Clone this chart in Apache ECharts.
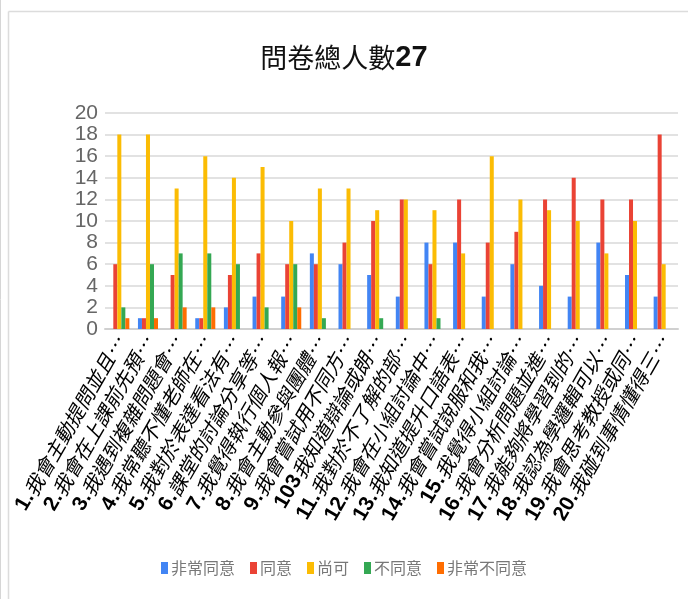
<!DOCTYPE html>
<html>
<head>
<meta charset="utf-8">
<script src="https://cdn.jsdelivr.net/npm/echarts@6/dist/echarts.min.js"></script>
<style>
html,body{margin:0;padding:0;background:#fff;}
#c{width:688px;height:599px;}
</style>
</head>
<body>
<div id="c"></div>
<script>
const categories = [
  "1.我會主動提問並且…","2.我會在上課前先預…","3.我遇到複雜問題會…","4.我常聽不懂老師在…",
  "5.我對於表達看法有…","6.課堂的討論分享等…","7.我覺得執行個人報…","8.我會主動參與團體…",
  "9.我會嘗試用不同方…","103我知道辯論或朗…","11.我對於不了解的部…","12.我會在小組討論中…",
  "13.我知道提升口語表…","14.我會嘗試說服和我…","15.我覺得小組討論…","16.我會分析問題並進…",
  "17.我能夠將學習到的…","18.我認為學邏輯可以…","19.我會思考教授或同…","20.我碰到事情懂得三…"
];
const seriesNames = ["非常同意","同意","尚可","不同意","非常不同意"];
const stronglyAgree    = [0,1,0,1,2,3,3,7,6,5,3,8,8,3,6,4,3,8,5,3];
const agree            = [6,1,5,1,5,7,6,6,8,10,12,6,12,8,9,12,14,12,12,18];
const neutral          = [18,18,13,16,14,15,10,13,13,11,12,11,7,16,12,11,10,7,10,6];
const disagree         = [2,6,7,7,6,2,6,1,0,1,0,1,0,0,0,0,0,0,0,0];
const stronglyDisagree = [1,1,2,2,0,0,2,0,0,0,0,0,0,0,0,0,0,0,0,0];
const yTicks = [0,2,4,6,8,10,12,14,16,18,20];
const colors = ["#4285F4","#EA4335","#FBBC04","#34A853","#FF6D01"];

const dataSets = [stronglyAgree, agree, neutral, disagree, stronglyDisagree];
const chart = echarts.init(document.getElementById('c'));
chart.setOption({
  animation: false,
  backgroundColor: '#fff',
  color: colors,
  title: {
    text: '{a|問卷總人數}{b|27}',
    left: 'center',
    top: 38,
    textStyle: {
      rich: {
        a: {fontFamily: 'Noto Sans CJK TC', fontSize: 27, color: '#111', fontWeight: 'normal'},
        b: {fontFamily: 'Liberation Sans Narrow, Liberation Sans', fontSize: 29, color: '#111', fontWeight: 'bold'}
      }
    }
  },
  graphic: [
    {type: 'line', shape: {x1: 0.5, y1: 0, x2: 0.5, y2: 599}, style: {stroke: '#d6d6d6', lineWidth: 1}},
    {type: 'line', shape: {x1: 8.5, y1: 11.5, x2: 688, y2: 11.5}, style: {stroke: '#dcdcdc', lineWidth: 1.5}},
    {type: 'line', shape: {x1: 8.5, y1: 11.5, x2: 8.5, y2: 599}, style: {stroke: '#dcdcdc', lineWidth: 1.5}}
  ],
  legend: {
    bottom: 18,
    left: 'center',
    itemWidth: 7,
    itemHeight: 12,
    itemGap: 15,
    icon: 'rect',
    textStyle: {fontFamily: 'Noto Sans CJK TC', fontSize: 16, color: '#777', padding: [0,0,0,-2]},
    data: seriesNames
  },
  grid: {left: 105, right: 10, top: 113, bottom: 270, containLabel: false},
  xAxis: {
    type: 'category',
    data: categories,
    axisLine: {lineStyle: {color: '#d0d0d0', width: 2}},
    axisTick: {show: false},
    axisLabel: {
      interval: 0,
      rotate: 60,
      margin: 9,
      formatter: function (v) {
        const m = v.match(/^(\d+\.?)(.*)$/);
        return '{n|' + m[1] + '}{t|' + m[2] + '}';
      },
      rich: {
        n: {fontFamily: 'Liberation Sans', fontWeight: 'bold', fontSize: 21, color: '#000'},
        t: {fontFamily: 'Noto Sans CJK TC', fontStyle: 'italic', fontSize: 20, color: '#000'}
      }
    }
  },
  yAxis: {
    type: 'value',
    min: 0,
    max: 20,
    interval: 2,
    axisLine: {show: false},
    axisTick: {show: false},
    splitLine: {lineStyle: {color: '#d9d9d9', width: 1.5}},
    axisLabel: {
      margin: 7,
      fontFamily: 'Liberation Sans Narrow, Liberation Sans',
      fontSize: 21,
      color: '#666',
      formatter: function (v) { return yTicks.includes(v) ? String(v) : ''; }
    }
  },
  series: seriesNames.map((n, i) => ({
    name: n,
    type: 'bar',
    data: dataSets[i],
    barGap: '0%',
    barCategoryGap: '30%',
    itemStyle: {color: colors[i]}
  }))
});
</script>
</body>
</html>
